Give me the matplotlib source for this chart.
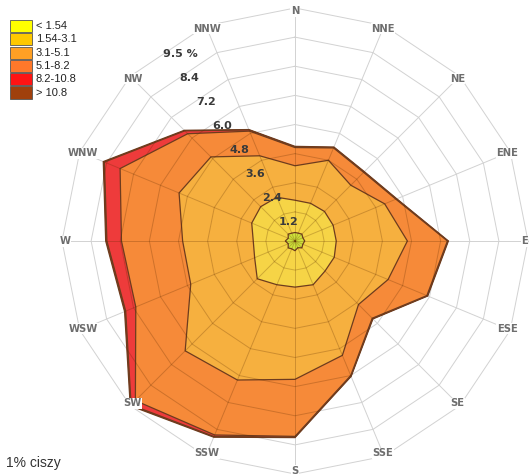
import numpy as np
import matplotlib
matplotlib.use('Agg')
import matplotlib.pyplot as plt
from matplotlib.patches import Rectangle

# ---------------- data ----------------
directions = ['N', 'NNE', 'NE', 'ENE', 'E', 'ESE', 'SE', 'SSE',
              'S', 'SSW', 'SW', 'WSW', 'W', 'WNW', 'NW', 'NNW']
speed_classes = ['< 1.54', '1.54-3.1', '3.1-5.1', '5.1-8.2', '8.2-10.8', '> 10.8']

# frequency (%) of each speed class per direction (N, NNE, ... NNW)
freq_lt_1_54   = [0.35, 0.35, 0.40, 0.35, 0.40, 0.35, 0.40, 0.30, 0.40, 0.35, 0.40, 0.30, 0.40, 0.30, 0.40, 0.35]
freq_1_54_3_1  = [1.33, 1.33, 1.32, 1.35, 1.30, 1.40, 1.35, 1.65, 1.50, 1.60, 1.80, 1.50, 1.32, 1.63, 1.60, 1.60]
freq_3_1_5_1   = [1.42, 1.92, 1.53, 2.30, 2.93, 2.40, 1.95, 3.15, 3.80, 4.25, 4.20, 2.85, 2.91, 3.24, 2.90, 1.85]
freq_5_1_8_2   = [0.75, 0.55, 0.75, 0.50, 1.65, 1.73, 0.80, 0.90, 2.35, 2.45, 2.90, 2.45, 2.52, 2.63, 1.35, 1.10]
freq_8_2_10_8  = [0.02, 0.02, 0.02, 0.02, 0.02, 0.02, 0.02, 0.02, 0.03, 0.07, 0.25, 0.45, 0.60, 0.70, 0.17, 0.05]
freq_gt_10_8   = [0.03, 0.02, 0.02, 0.02, 0.02, 0.02, 0.02, 0.02, 0.02, 0.03, 0.05, 0.05, 0.05, 0.05, 0.03, 0.02]

ring_values = [1.2, 2.4, 3.6, 4.8, 6.0, 7.2, 8.4, 9.6]
ring_labels = ['1.2', '2.4', '3.6', '4.8', '6.0', '7.2', '8.4', '9.5 %']
calm_text = '1% ciszy'

# ---------------- style ----------------
fill_colors = ['#cfe23c', '#f6d446', '#f6b03f', '#f68a39', '#ee3b3b', '#8b2f10']
legend_colors = ['#ffff00', '#ffc800', '#ffa024', '#ff782a', '#ff1414', '#a0400c']
edge_color = '#6e3c1e'

W, H = 532, 474
fig = plt.figure(figsize=(W / 100, H / 100), dpi=100)
fig.patch.set_facecolor('white')

cx, cy_top, R = 295, 241, 233
cy = H - cy_top
ax = fig.add_axes([(cx - R) / W, (cy - R) / H, 2 * R / W, 2 * R / H], projection='polar')
ax.set_theta_zero_location('N')
ax.set_theta_direction(-1)
rmax = ring_values[-1]
ax.set_ylim(0, rmax)
ax.set_axis_off()

theta = np.deg2rad(np.arange(len(directions)) * 360.0 / len(directions))
theta_c = np.append(theta, theta[0])

def closed(a):
    a = np.asarray(a, dtype=float)
    return np.append(a, a[0])

def draw_grid(color, lw, alpha, z, clip=None):
    arts = []
    for r in ring_values:
        ln, = ax.plot(theta_c, [r] * len(theta_c), color=color, lw=lw, alpha=alpha,
                      zorder=z, clip_on=False)
        arts.append(ln)
    for t in theta:
        ln, = ax.plot([t, t], [0, rmax], color=color, lw=lw, alpha=alpha, zorder=z,
                      clip_on=False)
        arts.append(ln)
    if clip is not None:
        for a in arts:
            a.set_clip_on(True)
            a.set_clip_path(clip)
    return arts

# polygonal grid (under fills)
draw_grid('#d2d2d2', 0.7, 1.0, 1)

# stacked cumulative fills
series = [freq_lt_1_54, freq_1_54_3_1, freq_3_1_5_1, freq_5_1_8_2, freq_8_2_10_8, freq_gt_10_8]
cum = np.cumsum(np.array(series), axis=0)
outer_patch = None
for i in range(len(series) - 1, -1, -1):
    polys = ax.fill(theta_c, closed(cum[i]), facecolor=fill_colors[i],
                    edgecolor=edge_color, lw=0.9, zorder=2 + (len(series) - i) * 0.01)
    if outer_patch is None:
        outer_patch = polys[0]

# grid visible through the fills
draw_grid('#5a2a00', 0.7, 0.26, 3, clip=outer_patch)

# direction labels
for t, d in zip(theta, directions):
    ax.text(t, rmax * 0.985, d, ha='center', va='center', fontsize=7.2,
            fontweight='bold', color='#6e6e6e', zorder=6,
            bbox=dict(boxstyle='square,pad=0.05', fc='white', ec='none'))

# ring labels
lab_theta = np.deg2rad(325.6)
for r, lab in zip(ring_values, ring_labels):
    ax.text(lab_theta, r, lab, ha='left', va='top', fontsize=8, fontweight='bold',
            color='#3a3a3a', zorder=7)

# legend (figure pixels, from top)
row0, dy = 26.0, 13.3
for i, (lab, col) in enumerate(zip(speed_classes, legend_colors)):
    yc = row0 + i * dy
    fig.add_artist(Rectangle((10 / W, 1 - (yc + 6) / H), 22 / W, 12 / H,
                             transform=fig.transFigure, facecolor=col,
                             edgecolor='#555555', lw=0.6))
    fig.text(36 / W, 1 - yc / H, lab, ha='left', va='center', fontsize=8,
             family='Liberation Sans', color='#222222')

fig.text(6 / W, 1 - 463 / H, calm_text, ha='left', va='center', fontsize=10,
         family='Liberation Sans', color='#333333')

fig.savefig('out.png', dpi=100, facecolor='white')
